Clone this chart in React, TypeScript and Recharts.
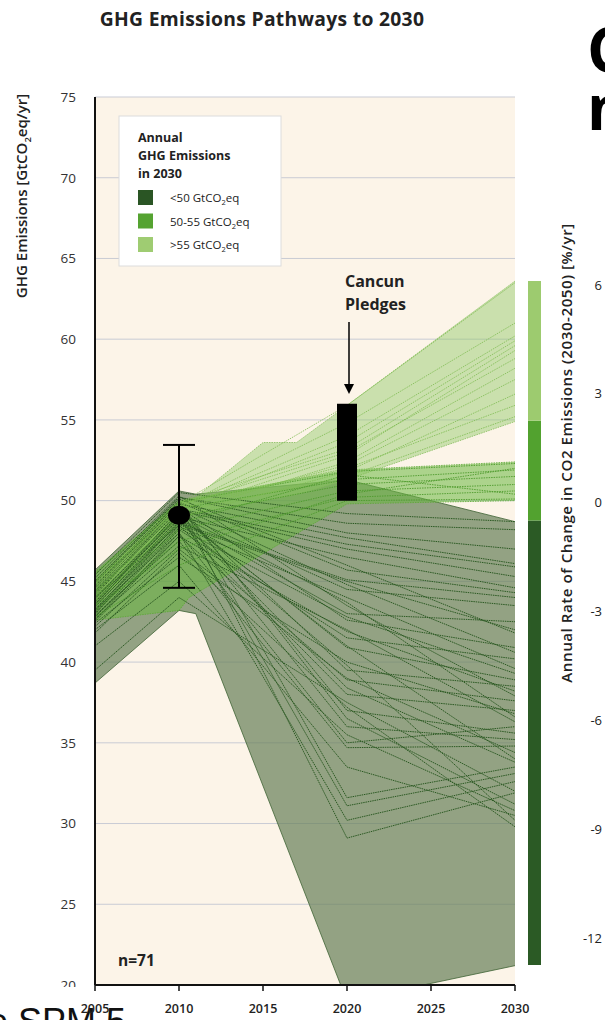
import {
  Area,
  Bar,
  BarChart,
  CartesianGrid,
  ComposedChart,
  ErrorBar,
  Line,
  Scatter,
  XAxis,
  YAxis,
} from 'recharts'

const FONT = '"Open Sans", "DejaVu Sans", sans-serif'

const pathYears = [2005, 2010, 2020, 2030]

// pathways ending below 50 GtCO2eq in 2030
const lowPathways: number[][] = [
  [45.4, 50.5, 49.2, 48.7],
  [45.0, 50.2, 48.6, 48.2],
  [44.6, 49.8, 47.7, 46.1],
  [44.2, 49.5, 47.3, 45.9],
  [43.9, 49.0, 46.5, 44.6],
  [44.8, 49.9, 45.7, 44.3],
  [43.5, 48.6, 45.1, 44.0],
  [44.0, 49.2, 44.5, 43.5],
  [43.2, 48.8, 43.0, 42.5],
  [44.5, 49.6, 42.6, 40.9],
  [42.8, 48.2, 41.5, 40.2],
  [43.6, 49.1, 40.9, 38.9],
  [44.3, 49.4, 39.5, 38.5],
  [42.5, 47.8, 38.9, 37.6],
  [43.0, 48.5, 38.0, 37.0],
  [44.1, 49.7, 37.0, 35.6],
  [43.4, 48.9, 36.0, 35.2],
  [42.9, 47.5, 34.7, 34.8],
  [44.7, 50.0, 31.6, 33.5],
  [43.7, 49.3, 31.1, 33.1],
  [42.6, 48.0, 30.2, 32.6],
  [44.4, 49.8, 29.1, 31.9],
  [43.3, 48.4, 44.0, 39.6],
  [42.7, 47.2, 42.0, 36.3],
  [44.9, 50.1, 46.0, 41.8],
  [43.8, 49.0, 41.0, 34.0],
  [43.1, 48.7, 39.8, 30.2],
  [45.2, 50.3, 43.5, 37.9],
  [42.4, 46.5, 40.0, 36.8],
  [41.0, 45.0, 35.5, 30.8],
  [39.5, 44.0, 37.5, 32.0],
  [44.0, 48.5, 45.0, 42.0],
  [43.5, 49.4, 47.0, 45.3],
  [42.2, 47.0, 39.0, 34.4],
  [44.6, 49.9, 36.5, 31.2],
  [43.0, 48.3, 42.8, 39.3],
  [42.0, 46.0, 33.5, 30.5],
  [44.3, 49.6, 44.8, 40.6],
  [43.6, 48.9, 38.4, 33.8],
  [42.8, 47.8, 41.9, 38.2],
  [45.0, 50.2, 48.0, 47.0],
  [43.2, 48.0, 35.0, 36.0],
  [41.8, 46.8, 37.2, 29.8],
  [44.0, 49.1, 43.7, 36.6],
]

// pathways ending at 50-55 GtCO2eq in 2030
const midPathways: number[][] = [
  [45.5, 49.9, 51.8, 52.3],
  [45.0, 49.5, 51.3, 51.9],
  [44.4, 49.0, 51.0, 51.5],
  [43.8, 48.2, 50.6, 51.0],
  [43.2, 47.5, 50.2, 50.6],
  [42.8, 46.0, 50.0, 50.1],
  [44.0, 48.6, 51.6, 50.4],
  [43.5, 47.0, 50.4, 52.0],
]

// pathways ending above 55 GtCO2eq in 2030
const highPathways: number[][] = [
  [44.8, 49.8, 55.9, 63.5],
  [44.5, 49.6, 54.0, 60.2],
  [44.2, 49.5, 53.6, 59.9],
  [45.0, 49.9, 53.2, 59.6],
  [44.0, 49.4, 52.8, 59.3],
  [44.6, 49.7, 53.0, 58.8],
  [43.8, 49.2, 52.4, 58.2],
  [44.3, 49.5, 52.2, 57.5],
  [43.5, 49.0, 51.8, 56.6],
  [44.9, 49.8, 52.0, 55.9],
  [44.1, 49.3, 51.5, 55.2],
  [44.7, 49.6, 54.8, 61.0],
]

// envelopes (min / max of each group)
const lowEnvYears = [2005, 2010, 2011, 2020, 2030]
const lowEnvMin = [38.7, 43.2, 43.0, 19.0, 21.2]
const lowEnvMax = [45.7, 50.6, 50.4, 51.3, 48.7]

const midEnvYears = [2005, 2010, 2010.6, 2020, 2030]
const midEnvMin = [42.6, 43.2, 44.0, 49.8, 50.0]
const midEnvMax = [45.6, 50.0, 50.1, 51.9, 52.4]

const highEnvYears = [2005, 2010, 2011, 2015, 2017, 2020, 2030]
const highEnvMin = [43.5, 48.8, 49.2, 50.0, 50.4, 51.3, 54.9]
const highEnvMax = [45.0, 49.8, 50.2, 53.6, 53.6, 55.9, 63.6]

// 2010 emissions estimate with uncertainty
const obs2010 = [{ year: 2010, value: 49.1, err: [4.5, 4.35] }]

// Cancun pledges range in 2020
const cancunYear = 2020
const cancunRange = [50, 56]

const xTicks = [2005, 2010, 2015, 2020, 2025, 2030]
const yTicks = [20, 25, 30, 35, 40, 45, 50, 55, 60, 65, 70, 75]

// colour bar: annual rate of change 2030-2050 [%/yr]
const rateTicks = [6, 3, 0, -3, -6, -9, -12]
const rateBands = [
  { name: 'rate', dark: [-12.75, -0.5], mid: [-0.5, 2.25], light: [2.25, 6.1] },
]

const legendItems = [
  { label: '<50 GtCO', color: '#2a5524' },
  { label: '50-55 GtCO', color: '#55a331' },
  { label: '>55 GtCO', color: '#9fcc72' },
]

const toPath = (vals: number[]) => vals.map((v, i) => ({ year: pathYears[i], v }))
const toEnv = (years: number[], lo: number[], hi: number[]) =>
  years.map((year, i) => ({ year, range: [lo[i], hi[i]] }))

const lowEnv = toEnv(lowEnvYears, lowEnvMin, lowEnvMax)
const midEnv = toEnv(midEnvYears, midEnvMin, midEnvMax)
const highEnv = toEnv(highEnvYears, highEnvMin, highEnvMax)
const cancunBar = cancunRange.map((v) => ({ year: cancunYear, v }))

function RateTick(props: any) {
  const { y, payload } = props
  return (
    <text x={102} y={y} dy={5} textAnchor="end" fontSize={13} fill="#222" fontFamily={FONT}>
      {payload.value}
    </text>
  )
}

export default function App() {
  return (
    <div style={{ position: 'absolute', left: 0, top: 0, width: 605, height: 1020, background: '#fff', overflow: 'hidden' }}>
      {/* slide text behind the chart */}
      <svg width={605} height={1020} style={{ position: 'absolute', left: 0, top: 0 }}>
        <text x={-12} y={1034} fontSize={36} fontFamily='"Liberation Sans", Arial, sans-serif' fill="#111">
          e SPM 5
        </text>
      </svg>

      <div style={{ position: 'absolute', left: 0, top: 0 }}>
        <ComposedChart width={605} height={1020} margin={{ top: 97, right: 90, bottom: 0, left: 0 }}>
          <CartesianGrid vertical={false} fill="#fcf4e8" stroke="#c9cbd4" strokeWidth={1} />
          <XAxis
            type="number"
            dataKey="year"
            domain={[2005, 2030]}
            ticks={xTicks}
            height={35}
            axisLine={{ stroke: '#111', strokeWidth: 2 }}
            tickLine={{ stroke: '#111', strokeWidth: 1.5 }}
            tickSize={6}
            tickMargin={13}
            tick={{ fontSize: 12.5, fontWeight: 600, fill: '#222', fontFamily: FONT }}
          />
          <YAxis
            type="number"
            domain={[20, 75]}
            ticks={yTicks}
            allowDataOverflow
            width={95}
            axisLine={{ stroke: '#111', strokeWidth: 2 }}
            tickLine={false}
            tickMargin={13}
            tick={{ fontSize: 13.5, fill: '#333', fontFamily: FONT }}
          />

          <Area
            data={lowEnv}
            dataKey="range"
            type="linear"
            fill="#667f58"
            fillOpacity={0.7}
            stroke="#3f6335"
            strokeWidth={0.8}
            isAnimationActive={false}
          />
          {lowPathways.map((p, i) => (
            <Line
              key={'low' + i}
              data={toPath(p)}
              dataKey="v"
              type="linear"
              stroke="#2c5a23"
              strokeWidth={1}
              strokeDasharray="1.5 0.8"
              dot={false}
              activeDot={false}
              isAnimationActive={false}
            />
          ))}

          <Area
            data={midEnv}
            dataKey="range"
            type="linear"
            fill="#6ab840"
            fillOpacity={0.55}
            stroke="#5aa834"
            strokeWidth={0.8}
            strokeDasharray="1.5 1"
            isAnimationActive={false}
          />
          {midPathways.map((p, i) => (
            <Line
              key={'mid' + i}
              data={toPath(p)}
              dataKey="v"
              type="linear"
              stroke="#4d9a2b"
              strokeWidth={0.9}
              strokeDasharray="1.5 1"
              dot={false}
              activeDot={false}
              isAnimationActive={false}
            />
          ))}

          <Area
            data={highEnv}
            dataKey="range"
            type="linear"
            fill="#8fc766"
            fillOpacity={0.45}
            stroke="#84bd5a"
            strokeWidth={0.8}
            strokeDasharray="1.5 1"
            isAnimationActive={false}
          />
          {highPathways.map((p, i) => (
            <Line
              key={'high' + i}
              data={toPath(p)}
              dataKey="v"
              type="linear"
              stroke="#7dbb50"
              strokeWidth={0.8}
              strokeDasharray="1.5 1"
              dot={false}
              activeDot={false}
              isAnimationActive={false}
            />
          ))}

          {/* Cancun pledges: a thick vertical segment drawn last among the lines */}
          <Line
            data={cancunBar}
            dataKey="v"
            type="linear"
            stroke="#000"
            strokeWidth={20}
            strokeLinecap="butt"
            dot={false}
            activeDot={false}
            isAnimationActive={false}
          />

          <Scatter
            data={obs2010}
            dataKey="value"
            isAnimationActive={false}
            shape={(props: any) => <ellipse cx={props.cx} cy={props.cy} rx={11} ry={9.5} fill="#000" />}
          >
            <ErrorBar dataKey="err" direction="y" width={16} stroke="#000" strokeWidth={2} />
          </Scatter>
        </ComposedChart>
      </div>

      {/* colour bar */}
      <div style={{ position: 'absolute', left: 500, top: 0 }}>
        <BarChart
          width={105}
          height={1020}
          data={rateBands}
          margin={{ top: 281, right: 0, bottom: 55, left: 28 }}
          barGap="-100%"
          barCategoryGap={0}
        >
          <XAxis dataKey="name" hide />
          <YAxis
            orientation="right"
            type="number"
            domain={[-12.75, 6.1]}
            ticks={rateTicks}
            width={64}
            axisLine={false}
            tickLine={false}
            tick={<RateTick />}
          />
          <Bar dataKey="dark" fill="#2b5a25" isAnimationActive={false} />
          <Bar dataKey="mid" fill="#52a22f" isAnimationActive={false} />
          <Bar dataKey="light" fill="#9dcb6f" isAnimationActive={false} />
        </BarChart>
      </div>

      {/* annotations */}
      <svg width={605} height={1020} style={{ position: 'absolute', left: 0, top: 0, pointerEvents: 'none' }}>
        <rect x={55} y={987} width={30} height={10} fill="#fff" />
        <text x={262} y={26} textAnchor="middle" fontSize={19.3} fontWeight={700} letterSpacing={0.3} fill="#222" fontFamily={FONT}>
          GHG Emissions Pathways to 2030
        </text>
        <text x={587} y={72} fontSize={62} fontWeight={700} fill="#000" fontFamily={FONT}>C</text>
        <text x={587} y={130} fontSize={62} fontWeight={700} fill="#000" fontFamily={FONT}>n</text>

        <text
          transform="translate(27,196) rotate(-90)"
          textAnchor="middle"
          fontSize={15}
          fontWeight={600}
          fill="#222"
          fontFamily={FONT}
        >
          GHG Emissions [GtCO<tspan fontSize={9.5} dy={4}>2</tspan>
          <tspan dy={-4}>eq/yr]</tspan>
        </text>
        <text
          transform="translate(572,453) rotate(-90)"
          textAnchor="middle"
          fontSize={15.2}
          fontWeight={600}
          letterSpacing={0.5}
          fill="#222"
          fontFamily={FONT}
        >
          Annual Rate of Change in CO2 Emissions (2030-2050) [%/yr]
        </text>

        <g>
          <rect x={119} y={116} width={162} height={150} fill="#fff" stroke="#dcdcdc" strokeWidth={1} />
          <text fontSize={12.5} fontWeight={700} fill="#222" fontFamily={FONT}>
            <tspan x={138} y={142}>Annual</tspan>
            <tspan x={138} y={160}>GHG Emissions</tspan>
            <tspan x={138} y={178}>in 2030</tspan>
          </text>
          {legendItems.map((it, i) => (
            <g key={it.label}>
              <rect x={138} y={190 + i * 23.5} width={15} height={15} fill={it.color} />
              <text x={170} y={202 + i * 23.5} fontSize={11.5} fill="#222" fontFamily={FONT}>
                {it.label}
                <tspan fontSize={7.5} dy={3}>2</tspan>
                <tspan dy={-3}>eq</tspan>
              </text>
            </g>
          ))}
        </g>

        <text fontSize={16} fontWeight={700} fill="#222" fontFamily={FONT}>
          <tspan x={345} y={287}>Cancun</tspan>
          <tspan x={345} y={310}>Pledges</tspan>
        </text>
        <line x1={349} y1={322} x2={349} y2={386} stroke="#000" strokeWidth={1.5} />
        <path d="M344,384 L354,384 L349,394 Z" fill="#000" />

        <text x={118} y={966} fontSize={15.5} fontWeight={700} fill="#222" fontFamily={FONT}>
          n=71
        </text>
      </svg>
    </div>
  )
}
